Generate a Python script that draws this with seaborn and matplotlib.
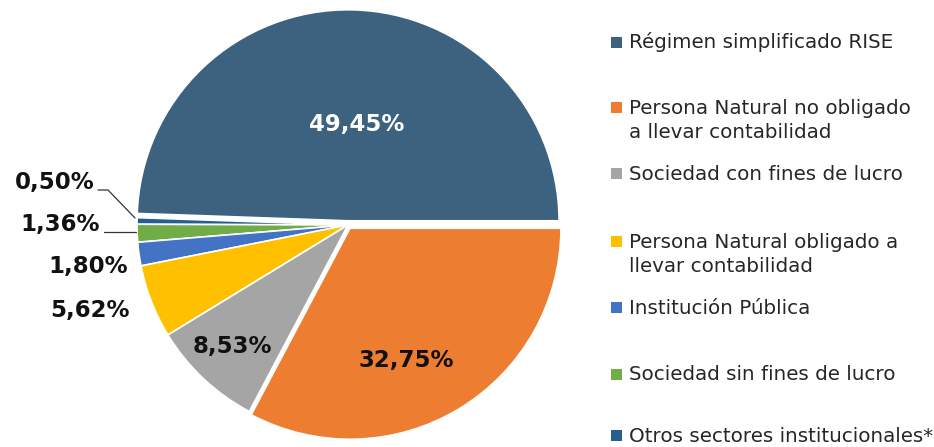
import matplotlib
matplotlib.use("Agg")
import matplotlib.pyplot as plt
import seaborn as sns
from matplotlib.patches import Rectangle

# ---- data (counter-clockwise order from 3 o'clock) ----
categories = [
    "Régimen simplificado RISE",
    "Otros sectores institucionales*",
    "Sociedad sin fines de lucro",
    "Institución Pública",
    "Persona Natural obligado a\nllevar contabilidad",
    "Sociedad con fines de lucro",
    "Persona Natural no obligado\na llevar contabilidad",
]
values = [49.45, 0.50, 1.36, 1.80, 5.62, 8.53, 32.75]
value_labels = ["49,45%", "0,50%", "1,36%", "1,80%", "5,62%", "8,53%", "32,75%"]
legend_order = [0, 6, 5, 4, 3, 2, 1]

colors = ["#3D6280", "#255E91", "#70AD47", "#4472C4", "#FFC000", "#A5A5A5", "#ED7D31"]

sns.set_theme(style="white")
plt.rcParams["font.family"] = ["DejaVu Sans"]

W, H = 934, 447
fig = plt.figure(figsize=(W / 100, H / 100), dpi=100)
ax = fig.add_axes([0, 0, 1, 1])

CX, CY, R = 348, 225, 211  # pie centre / radius in pixels


def px(x, y):
    return (x - CX) / R, (CY - y) / R


explode = [0.02, 0, 0, 0, 0, 0, 0.018]
wedges, _ = ax.pie(values, colors=colors, startangle=0, counterclock=True,
                   explode=explode, radius=1,
                   wedgeprops=dict(edgecolor="white", linewidth=1.2))

ax.set_xlim(-CX / R, (W - CX) / R)
ax.set_ylim(-(H - CY) / R, CY / R)
ax.set_aspect("auto")
ax.axis("off")

# ---- value labels (pixel positions of label centres) ----
label_pos = [(357, 124), (55, 183), (60, 225), (88, 266), (90, 310), (232, 347), (406, 360)]
label_col = ["white", "#111111", "#111111", "#111111", "#111111", "#111111", "#111111"]
for lab, (lx, ly), c in zip(value_labels, label_pos, label_col):
    x, y = px(lx, ly)
    ax.text(x, y, lab, ha="center", va="center", fontsize=16.5, fontweight="bold", color=c)

# leader lines
for pts in ([(98, 190), (108, 190), (135, 218)], [(104, 232), (136, 232)]):
    xs, ys = zip(*[px(a, b) for a, b in pts])
    ax.plot(xs, ys, color="#333333", lw=0.9)

# ---- legend (manual, irregular spacing as in the reference) ----
legend_y = [42, 107, 173, 241, 307, 374, 435]
sq = 11
for idx, yc in zip(legend_order, legend_y):
    x0, y0 = px(611, yc + sq / 2)
    ax.add_patch(Rectangle((x0, y0), sq / R, sq / R, facecolor=colors[idx],
                           edgecolor="none", clip_on=False))
    for k, line in enumerate(categories[idx].split("\n")):
        tx, ty = px(629, yc + 6.5 + 24.5 * k)
        ax.text(tx, ty, line, ha="left", va="baseline", fontsize=14.3,
                color="#262626")

fig.savefig("out.png", dpi=100, facecolor="white")
